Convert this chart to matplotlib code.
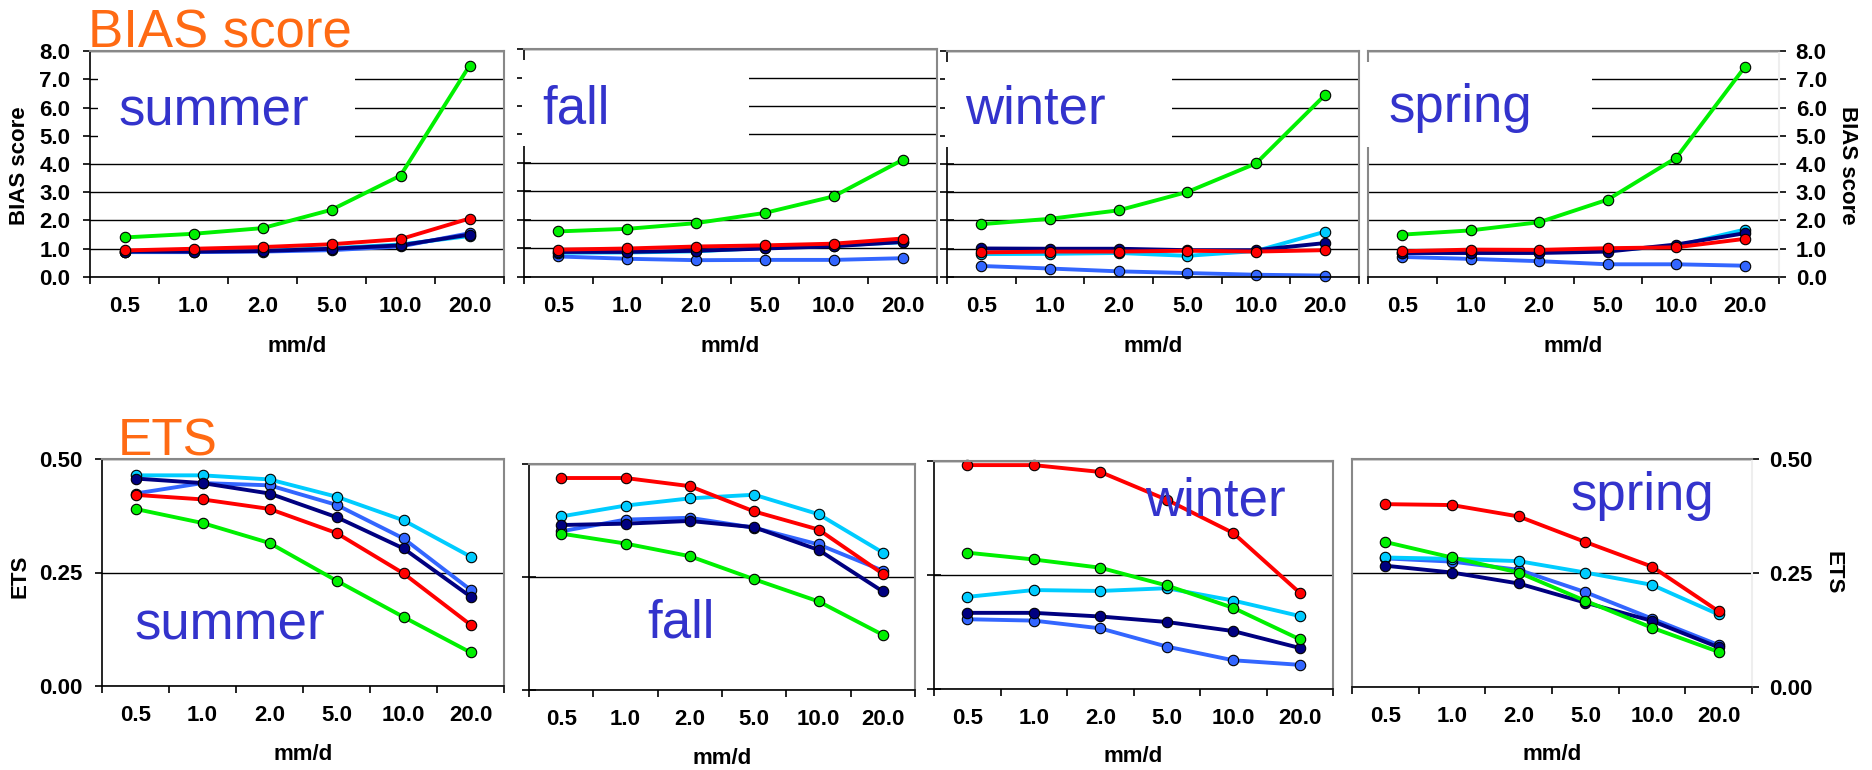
import numpy as np
from matplotlib import pyplot as plt
from matplotlib.patches import Rectangle

plt.rcParams['font.family'] = ['Liberation Sans', 'DejaVu Sans']

W, H = 1872, 770

thresholds = ['0.5', '1.0', '2.0', '5.0', '10.0', '20.0']
seasons = ['summer', 'fall', 'winter', 'spring']
series = ['blue', 'cyan', 'navy', 'red', 'green']
colors = ['#3366ff', '#00ccff', '#000080', '#ff0000', '#00f000']

# BIAS score, rows follow `series`
bias_summer = [[0.88, 0.88, 0.90, 0.95, 1.08, 1.55],
               [0.90, 0.92, 0.95, 1.02, 1.15, 1.45],
               [0.90, 0.90, 0.92, 1.00, 1.12, 1.50],
               [0.94, 1.00, 1.06, 1.16, 1.34, 2.07],
               [1.40, 1.53, 1.73, 2.38, 3.59, 7.48]]
bias_fall = [[0.72, 0.64, 0.59, 0.60, 0.60, 0.66],
             [0.85, 0.86, 0.90, 1.02, 1.10, 1.22],
             [0.88, 0.88, 0.92, 1.00, 1.08, 1.23],
             [0.96, 1.00, 1.07, 1.11, 1.17, 1.35],
             [1.60, 1.69, 1.89, 2.25, 2.83, 4.11]]
bias_winter = [[0.39, 0.30, 0.20, 0.14, 0.08, 0.05],
               [0.81, 0.82, 0.85, 0.75, 0.92, 1.60],
               [1.01, 1.00, 1.00, 0.95, 0.95, 1.20],
               [0.87, 0.90, 0.90, 0.93, 0.90, 0.95],
               [1.87, 2.06, 2.36, 3.01, 4.02, 6.43]]
bias_spring = [[0.71, 0.64, 0.56, 0.45, 0.45, 0.40],
               [0.85, 0.86, 0.90, 0.95, 1.10, 1.68],
               [0.85, 0.85, 0.85, 0.90, 1.15, 1.55],
               [0.91, 0.97, 0.96, 1.02, 1.05, 1.35],
               [1.50, 1.65, 1.94, 2.74, 4.22, 7.43]]

# ETS
ets_summer = [[0.424, 0.447, 0.442, 0.399, 0.325, 0.212],
              [0.464, 0.464, 0.455, 0.417, 0.365, 0.285],
              [0.457, 0.447, 0.424, 0.372, 0.303, 0.197],
              [0.421, 0.411, 0.390, 0.337, 0.248, 0.135],
              [0.390, 0.359, 0.315, 0.232, 0.152, 0.074]]
ets_fall = [[0.351, 0.377, 0.381, 0.359, 0.322, 0.264],
            [0.384, 0.408, 0.424, 0.432, 0.389, 0.304],
            [0.365, 0.368, 0.374, 0.360, 0.310, 0.218],
            [0.469, 0.469, 0.451, 0.395, 0.355, 0.257],
            [0.346, 0.324, 0.296, 0.245, 0.196, 0.122]]
ets_winter = [[0.153, 0.150, 0.133, 0.093, 0.063, 0.053],
              [0.202, 0.217, 0.215, 0.221, 0.194, 0.160],
              [0.167, 0.167, 0.159, 0.147, 0.127, 0.090],
              [0.491, 0.491, 0.476, 0.415, 0.342, 0.211],
              [0.299, 0.284, 0.266, 0.227, 0.178, 0.109]]
ets_spring = [[0.282, 0.275, 0.257, 0.208, 0.150, 0.092],
              [0.284, 0.281, 0.276, 0.251, 0.224, 0.159],
              [0.266, 0.251, 0.227, 0.185, 0.145, 0.087],
              [0.401, 0.399, 0.374, 0.318, 0.264, 0.166],
              [0.318, 0.284, 0.251, 0.189, 0.130, 0.077]]

bias_data = [bias_summer, bias_fall, bias_winter, bias_spring]
ets_data = [ets_summer, ets_fall, ets_winter, ets_spring]

# panel boxes in pixels (left, top, right, bottom)
bias_boxes = [(90, 51, 504, 277), (524, 49, 937, 277), (947, 51, 1359, 277), (1368, 51, 1779, 277)]
ets_boxes = [(102, 459, 504, 686), (529, 464, 915, 690), (934, 461, 1333, 689), (1352, 459, 1752, 687)]
# season label positions (left, baseline) in pixels
bias_label_pos = [(118, 125), (542, 123), (965, 123), (1388, 122)]
ets_label_pos = [(134, 640), (647, 637), (1145, 516), (1570, 510)]

GRAY = '#888888'
TICKFONT = dict(fontsize=16, fontweight='bold')


def fx(x):
    return x / W


def fy(y):
    return 1 - y / H


def panel(box, rows, ymax, yticks, fmt, col):
    x0, y0, x1, y1 = box
    ax = fig.add_axes([fx(x0), fy(y1), (x1 - x0) / W, (y1 - y0) / H])
    ax.set_xlim(0, 6)
    ax.set_ylim(0, ymax)
    xs = np.arange(6) + 0.5
    for i, (vals, c) in enumerate(zip(rows, colors)):
        ax.plot(xs, vals, color=c, lw=2.8, marker='o', ms=7.5, mfc=c,
                mec='black', mew=0.8, zorder=2 + i * 0.01, clip_on=False)

    ax.set_xticks(range(7))
    ax.set_xticklabels([])
    ax.set_xticks(xs, minor=True)
    ax.set_xticklabels(thresholds, minor=True, **TICKFONT)
    ax.tick_params(axis='x', which='major', direction='out', length=5, width=1.2)
    ax.tick_params(axis='x', which='minor', length=0, pad=14)

    ax.set_yticks(yticks)
    ax.set_yticklabels([fmt % v for v in yticks], **TICKFONT)
    ax.yaxis.grid(True, color='black', lw=1.0)
    ax.xaxis.grid(False)

    for s in ['top', 'right']:
        ax.spines[s].set_color(GRAY)
        ax.spines[s].set_linewidth(1.5)
    ax.spines['bottom'].set_color('black')
    ax.spines['bottom'].set_linewidth(1.2)

    if col == 0:
        ax.spines['left'].set_color('black')
        ax.spines['left'].set_linewidth(1.2)
        ax.tick_params(axis='y', direction='out', length=5, width=1.2, pad=9)
    elif col == 3:
        ax.spines['left'].set_color(GRAY)
        ax.spines['left'].set_linewidth(1.5)
        ax.spines['right'].set_color('#eeeeee')
        ax.yaxis.tick_right()
        ax.tick_params(axis='y', direction='out', length=5, width=1.2, pad=7,
                       left=False, labelleft=False, right=True, labelright=True)
    else:
        ax.spines['left'].set_color('black')
        ax.spines['left'].set_linewidth(1.2)
        ax.tick_params(axis='y', direction='inout', length=10, width=1.2,
                       labelleft=False)

    fig.text(fx((x0 + x1) / 2), fy(y1 + 70 if ymax > 1 else y1 + 68), 'mm/d',
             ha='center', va='center', fontsize=16, fontweight='bold')
    return ax


fig = plt.figure(figsize=(W / 100, H / 100), dpi=100)
fig.patch.set_facecolor('white')

for col in range(4):
    ax = panel(bias_boxes[col], bias_data[col], 8, np.arange(0, 8.1, 1.0), '%.1f', col)
    # white box behind the season name, hides part of the grid
    if col == 0:
        ax.add_patch(Rectangle((0.12, 4.5), 3.72, 3.0, facecolor='white',
                               edgecolor='none', zorder=2.6, clip_on=False))
    else:
        ax.add_patch(Rectangle((-0.03, 4.6), 3.3, 3.0, facecolor='white',
                               edgecolor='none', zorder=2.6, clip_on=False))
    lx, ly = bias_label_pos[col]
    fig.text(fx(lx), fy(ly), seasons[col], ha='left', va='baseline',
             fontsize=38, color='#3333cc', zorder=5)

for col in range(4):
    ax = panel(ets_boxes[col], ets_data[col], 0.5, [0.0, 0.25, 0.5], '%.2f', col)
    lx, ly = ets_label_pos[col]
    fig.text(fx(lx), fy(ly), seasons[col], ha='left', va='baseline',
             fontsize=38, color='#3333cc', zorder=5)

# titles
fig.text(fx(88), fy(47), 'BIAS score', ha='left', va='baseline', fontsize=38, color='#ff6a13')
fig.text(fx(118), fy(456), 'ETS', ha='left', va='baseline', fontsize=37, color='#ff6a13')

# axis titles
fig.text(fx(20), fy(166), 'BIAS score', rotation=90, ha='center', va='center',
         fontsize=16, fontweight='bold')
fig.text(fx(1848), fy(165), 'BIAS score', rotation=270, ha='center', va='center',
         fontsize=16, fontweight='bold')
fig.text(fx(20), fy(576), 'ETS', rotation=90, ha='center', va='center',
         fontsize=16, fontweight='bold')
fig.text(fx(1833), fy(573), 'ETS', rotation=270, ha='center', va='center',
         fontsize=16, fontweight='bold')

fig.savefig('out.png', dpi=100)
